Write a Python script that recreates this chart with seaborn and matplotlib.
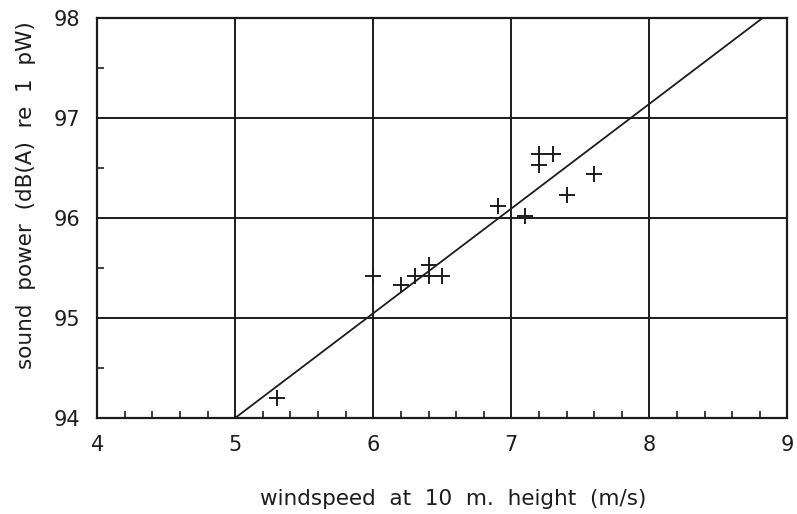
import matplotlib
matplotlib.use("Agg")
import matplotlib.pyplot as plt
import seaborn as sns
from matplotlib.ticker import MultipleLocator

windspeed = [5.3, 6.0, 6.2, 6.3, 6.4, 6.4, 6.5, 6.9, 7.1, 7.2, 7.2, 7.3, 7.4, 7.6]
sound_power = [94.2, 95.42, 95.33, 95.42, 95.53, 95.42, 95.42,
               96.12, 96.02, 96.64, 96.53, 96.64, 96.23, 96.44]

# regression line end points
fit_windspeed = [5.0, 8.82]
fit_power = [94.0, 98.0]

x_ticks = [4, 5, 6, 7, 8, 9]
y_ticks = [94, 95, 96, 97, 98]

ink = '#1c1c1c'

sns.set_style('white')
plt.rcParams['font.family'] = ['DejaVu Sans']

fig, ax = plt.subplots(figsize=(7.97, 5.14), dpi=100)
fig.subplots_adjust(left=0.122, right=0.988, top=0.965, bottom=0.187)

sns.lineplot(x=fit_windspeed, y=fit_power, color=ink, linewidth=1.3, ax=ax)
sns.scatterplot(x=windspeed, y=sound_power, marker='+', s=120, color=ink,
                linewidth=1.4, ax=ax, zorder=3)

ax.set_xlim(4, 9)
ax.set_ylim(94, 98)
ax.set_xticks(x_ticks)
ax.set_yticks(y_ticks)
ax.xaxis.set_minor_locator(MultipleLocator(0.2))
ax.yaxis.set_minor_locator(MultipleLocator(0.5))

ax.grid(True, which='major', color=ink, linewidth=1.4)
ax.set_axisbelow(True)
for side in ax.spines.values():
    side.set_visible(True)
    side.set_color(ink)
    side.set_linewidth(1.6)

ax.tick_params(which='both', bottom=True, left=True, top=False, right=False)
ax.tick_params(which='major', length=0, pad=12, labelsize=15, labelcolor=ink)
ax.tick_params(which='minor', direction='in', length=5, width=1.2, color=ink)

ax.set_xlabel('windspeed  at  10  m.  height  (m/s)', fontsize=15.5, color=ink)
ax.set_ylabel('sound  power  (dB(A)  re  1  pW)', fontsize=15.5, color=ink)
ax.xaxis.set_label_coords(0.516, -0.177)
ax.yaxis.set_label_coords(-0.088, 0.557)

plt.savefig('out.png', dpi=100)
